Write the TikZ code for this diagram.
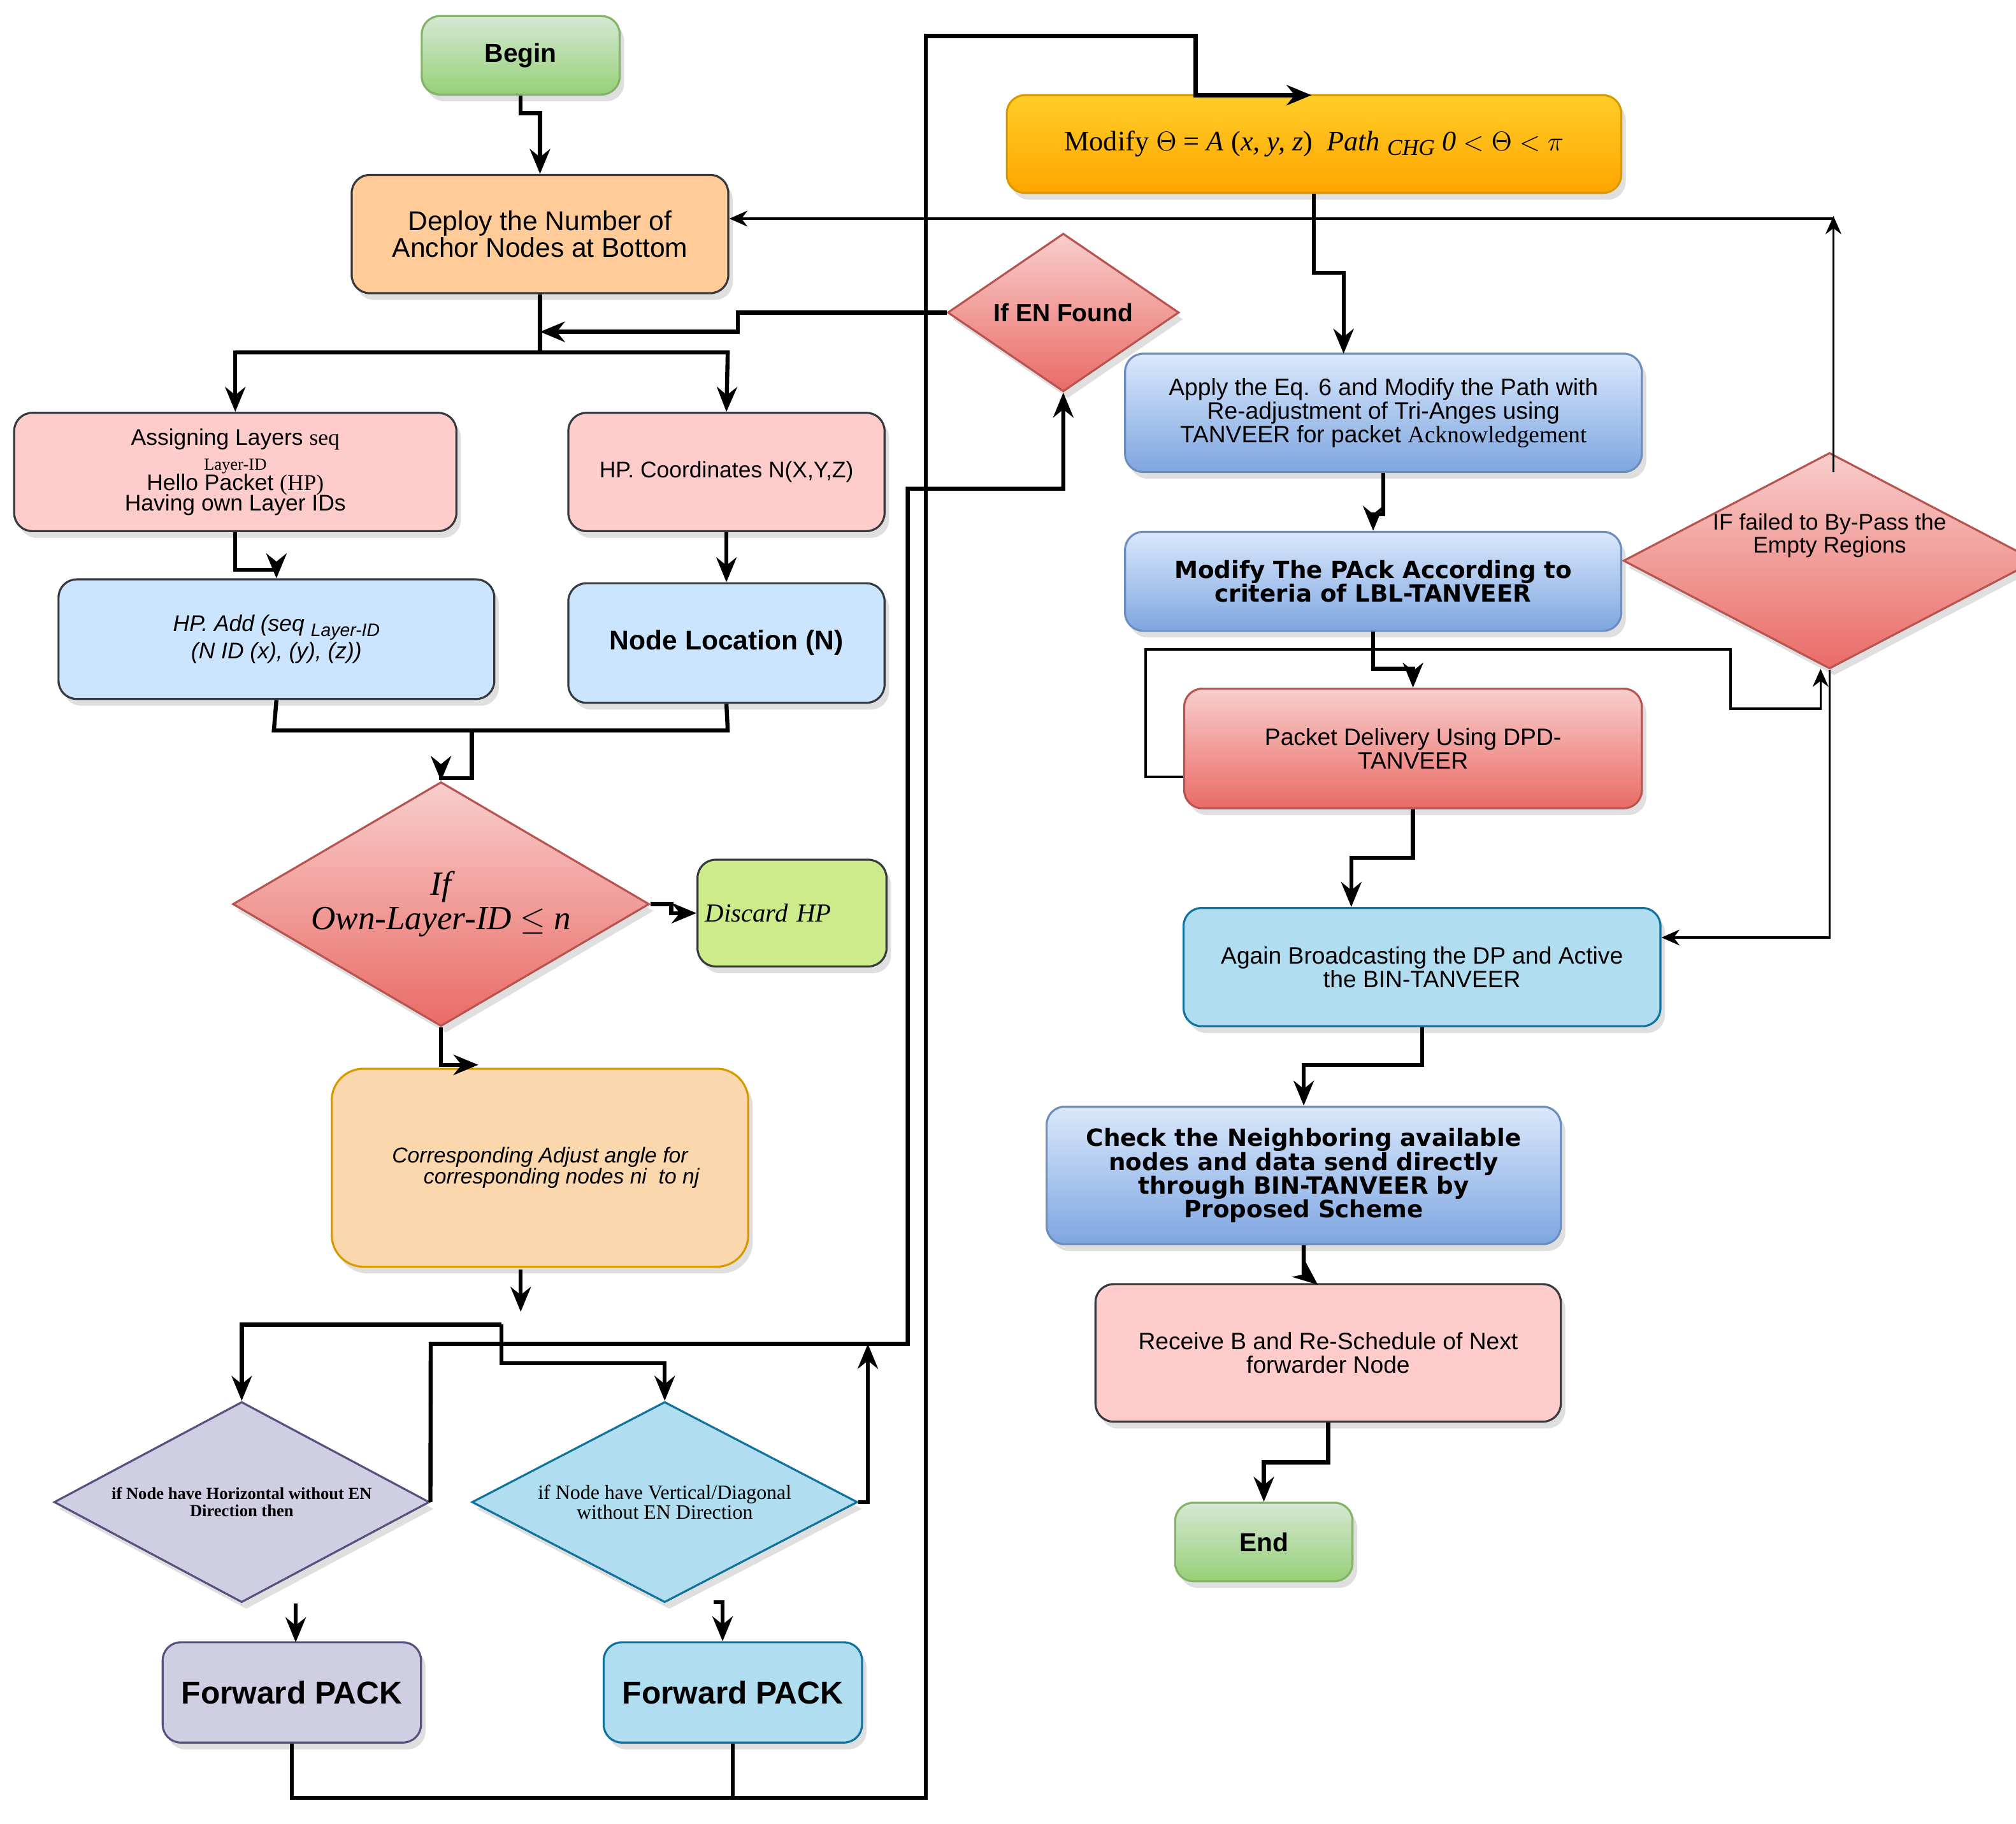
\documentclass[tikz,border=0pt]{standalone}
\usepackage{fontspec}
\setmainfont{Liberation Sans}
\newfontfamily\serif{Liberation Serif}
\newfontfamily\verd{DejaVu Sans}
\usetikzlibrary{shapes.geometric,shadows,arrows.meta}
\definecolor{gT}{HTML}{D5E8D4}\definecolor{gB}{HTML}{97D077}\definecolor{gD}{HTML}{82B366}
\definecolor{oF}{HTML}{FFCC99}\definecolor{oD}{HTML}{36393D}
\definecolor{yT}{HTML}{FFCD28}\definecolor{yB}{HTML}{FFA500}\definecolor{yD}{HTML}{D79B00}
\definecolor{pF}{HTML}{FFCCCC}
\definecolor{lbF}{HTML}{CCE5FF}
\definecolor{bT}{HTML}{DAE8FC}\definecolor{bB}{HTML}{7EA6E0}\definecolor{bD}{HTML}{6C8EBF}
\definecolor{rT}{HTML}{F8CECC}\definecolor{rB}{HTML}{EA6B66}\definecolor{rD}{HTML}{B85450}
\definecolor{grF}{HTML}{CDEB8B}
\definecolor{tanF}{HTML}{FAD7AC}\definecolor{tanD}{HTML}{D79B00}
\definecolor{puF}{HTML}{D0CEE2}\definecolor{puD}{HTML}{56517E}
\definecolor{cyF}{HTML}{B1DDF0}\definecolor{cyD}{HTML}{10739E}
\tikzset{
 box/.style={rectangle,rounded corners=8pt,draw=oD,line width=0.9pt,align=center,inner sep=2pt,
   drop shadow={shadow xshift=2pt,shadow yshift=-3pt,opacity=0.25}},
 dia/.style={diamond,draw,line width=0.9pt,align=center,inner sep=0pt,
   drop shadow={shadow xshift=2pt,shadow yshift=-3pt,opacity=0.25}},
 green/.style={top color=gT,bottom color=gB,draw=gD},
 blueg/.style={top color=bT,bottom color=bB,draw=bD},
 redg/.style={top color=rT,bottom color=rB,draw=rD},
 ar/.style={line width=1.8pt,-{Stealth[length=11pt,width=9pt]}},
 ln/.style={line width=1.8pt},
 tar/.style={line width=1pt,-{Stealth[length=8pt,width=7pt]}},
 tln/.style={line width=1pt},
 f/.style={font=\fontsize{#1}{#1*1.2}\selectfont}
}
\begin{document}
\begin{tikzpicture}[x=0.02cm,y=-0.02cm]
\useasboundingbox (0,0) rectangle (1568,1418);
% nodes
\node[box,green,minimum width=3.08cm,minimum height=1.22cm,f=11.5pt] (begin) at (405,43) {\bfseries Begin};
\node[box,fill=oF,minimum width=5.86cm,minimum height=1.84cm,f=12pt] (deploy) at (420,182) {Deploy the Number of\\Anchor Nodes at Bottom};
\node[box,top color=yT,bottom color=yB,draw=yD,minimum width=9.56cm,minimum height=1.52cm,f=12.5pt] (theta) at (1022,112)
 {\serif Modify $\Theta$ = \textit{A} (\textit{x, y, z})\ \ \textit{Path} {\fontsize{10}{10}\selectfont\raisebox{-0.4ex}{\textit{CHG}}} \textit{0} $<\Theta<\pi$};
\node[dia,redg,minimum width=3.6cm,minimum height=2.46cm,aspect=1.46,f=11pt] (ifen) at (827,243) {\bfseries If EN Found};
\node[box,fill=pF,minimum width=6.88cm,minimum height=1.84cm,f=10pt,inner sep=1pt] (assign) at (183,367)
 {Assigning Layers {\serif seq}\\[1pt]{\serif\fontsize{7.5}{8}\selectfont Layer-ID}\\[-1pt]Hello Packet {\serif(HP)}\\[-1pt]Having own Layer IDs};
\node[box,fill=pF,minimum width=4.92cm,minimum height=1.84cm,f=10pt] (coord) at (565,367) {HP. Coordinates N(X,Y,Z)};
\node[box,fill=lbF,minimum width=6.78cm,minimum height=1.86cm,f=10pt] (hpadd) at (215,497)
 {\itshape HP. Add (seq {\fontsize{8}{8}\selectfont\raisebox{-0.5ex}{Layer-ID}}\\\itshape (N ID (x), (y), (z))};
\node[box,fill=lbF,minimum width=4.92cm,minimum height=1.86cm,f=12pt] (nodeloc) at (565,500) {\bfseries Node Location (N)};
\node[dia,redg,minimum width=6.48cm,minimum height=3.8cm,aspect=1.7,f=15pt] (own) at (343,703)
 {\serif\itshape If\\\serif\itshape Own-Layer-ID $\leq$ \textit{n}};
\node[box,fill=grF,minimum width=2.94cm,minimum height=1.66cm,f=11.5pt,align=left,text width=2.7cm] (discard) at (616,710)
 {\serif\itshape Discard HP\\[0.6cm]};
\node[box,fill=tanF,draw=tanD,minimum width=6.48cm,minimum height=3.08cm,rounded corners=14pt,f=9.5pt] (corr) at (420,908)
 {\itshape Corresponding Adjust angle for\\\itshape\hspace*{2em}corresponding nodes ni\ \ to nj};
\node[dia,fill=puF,draw=puD,minimum width=5.84cm,minimum height=3.12cm,aspect=1.87,f=7.5pt] (hor) at (188,1168)
 {\serif\bfseries if Node have Horizontal without EN\\\serif\bfseries Direction then};
\node[dia,fill=cyF,draw=cyD,minimum width=6.0cm,minimum height=3.12cm,aspect=1.92,f=9pt] (ver) at (517,1168)
 {\serif if Node have Vertical/Diagonal\\\serif without EN Direction};
\node[box,fill=puF,draw=puD,minimum width=4.02cm,minimum height=1.56cm,f=14pt] (fp1) at (227,1316) {\bfseries Forward PACK};
\node[box,fill=cyF,draw=cyD,minimum width=4.02cm,minimum height=1.56cm,f=14pt] (fp2) at (570,1316) {\bfseries Forward PACK};
\node[box,blueg,minimum width=8.04cm,minimum height=1.84cm,f=10.5pt,inner sep=1pt] (apply) at (1076,321)
 {Apply the Eq. 6 and Modify the Path with\\Re-adjustment of Tri-Anges using\\TANVEER for packet {\serif Acknowledgement}};
\node[box,blueg,minimum width=7.72cm,minimum height=1.54cm,f=10.5pt] (pack) at (1068,452)
 {\verd\bfseries Modify The PAck According to\\\verd\bfseries criteria of LBL-TANVEER};
\node[box,redg,minimum width=7.12cm,minimum height=1.86cm,f=10.5pt] (deliv) at (1099,582) {Packet Delivery Using DPD-\\TANVEER};
\node[dia,redg,minimum width=5.28cm,minimum height=2.76cm,aspect=1.91,f=10pt] (fail) at (1423,436) {IF failed to By-Pass the\\Empty Regions\\[0.5cm]};
\node[box,fill=cyF,draw=cyD,minimum width=7.42cm,minimum height=1.84cm,f=10.5pt,inner sep=0pt] (again) at (1106,752)
 {Again Broadcasting the DP and Active\\the BIN-TANVEER};
\node[box,blueg,minimum width=8.0cm,minimum height=2.14cm,f=10.5pt,inner sep=0pt] (check) at (1014,914)
 {\verd\bfseries Check the Neighboring available\\\verd\bfseries nodes and data send directly\\\verd\bfseries through BIN-TANVEER by\\\verd\bfseries Proposed Scheme};
\node[box,fill=pF,minimum width=7.24cm,minimum height=2.14cm,f=10.5pt] (recv) at (1033,1052)
 {Receive B and Re-Schedule of Next\\forwarder Node};
\node[box,green,minimum width=2.76cm,minimum height=1.22cm,f=11.5pt] (end) at (983,1199) {\bfseries End};
\coordinate (corrarr) at (405,1020);
% connectors
\draw[ar] (begin.south) -- (405,88) -- (420,88) -- (deploy.north);
\draw[ln] (deploy.south) -- (420,274);
\draw[ar] (183,274) -- (566,274) -- (coord.north);
\draw[ar] (420,274) -- (183,274) -- (assign.north);
\draw[ar] (ifen.west) -- (574,243) -- (574,258) -- (420,258);
\draw[ar] (assign.south) -- (183,443) -- (215,443) -- (hpadd.north);
\draw[ar] (coord.south) -- (nodeloc.north);
\draw[ln] (hpadd.south) -- (213,568) -- (566,568) -- (nodeloc.south);
\draw[ar] (367,568) -- (367,605) -- (343,605) -- (own.north);
\draw[ar] (own.east) -- (522,703) -- (522,710) -- (discard.west);
\draw[ar] (own.south) -- (343,828) -- (372,828);
\draw[ar] (405,987) -- (corrarr);
\draw[ar] (390,1030) -- (188,1030) -- (hor.north);
\draw[ar] (390,1030) -- (390,1060) -- (517,1060) -- (ver.north);
\draw[ar] (hor.east) -- (335,1045) -- (706,1045) -- (706,380) -- (827,380) -- (ifen.south);
\draw[ar] (ver.east) -- (675,1168) -- (675,1045);
\draw[ar] (hor.south) ++(42,0) -- (230,1277);
\draw[ar] (555,1246) -- (562,1246) -- (fp2.north -| 562,0);
\draw[ln] (fp2.south) -- (570,1398);
\draw[ar] (fp1.south) -- (227,1398) -- (720,1398) -- (720,28) -- (930,28) -- (930,74) -- (1020,74);
\draw[ar] (theta.south) -- (1022,212) -- (1045,212) -- (1045,275);
\draw[ar] (apply.south) -- (1076,400) -- (1068,400) -- (pack.north);
\draw[ar] (pack.south) -- (1068,520) -- (1099,520) -- (deliv.north);
\draw[tar] (deliv.west) ++(0,22) -- (891,604) -- (891,505) -- (1346,505) -- (1346,551) -- (1416,551) -- (1416,520);
\draw[ar] (deliv.south) -- (1099,667) -- (1051,667) -- (again.north -| 1051,0);
\draw[tar] (fail.south) -- (1423,729) -- (again.east |- 0,729);
\draw[tar] (1426,367) -- (1426,168);
\draw[tar] (1426,170) -- (deploy.east |- 0,170);
\draw[ar] (again.south) -- (1106,828) -- (1014,828) -- (check.north);
\draw[ar] (check.south) -- (1014,990) -- (1025,999);
\draw[ar] (recv.south) -- (1033,1137) -- (983,1137) -- (end.north);
\end{tikzpicture}
\end{document}
